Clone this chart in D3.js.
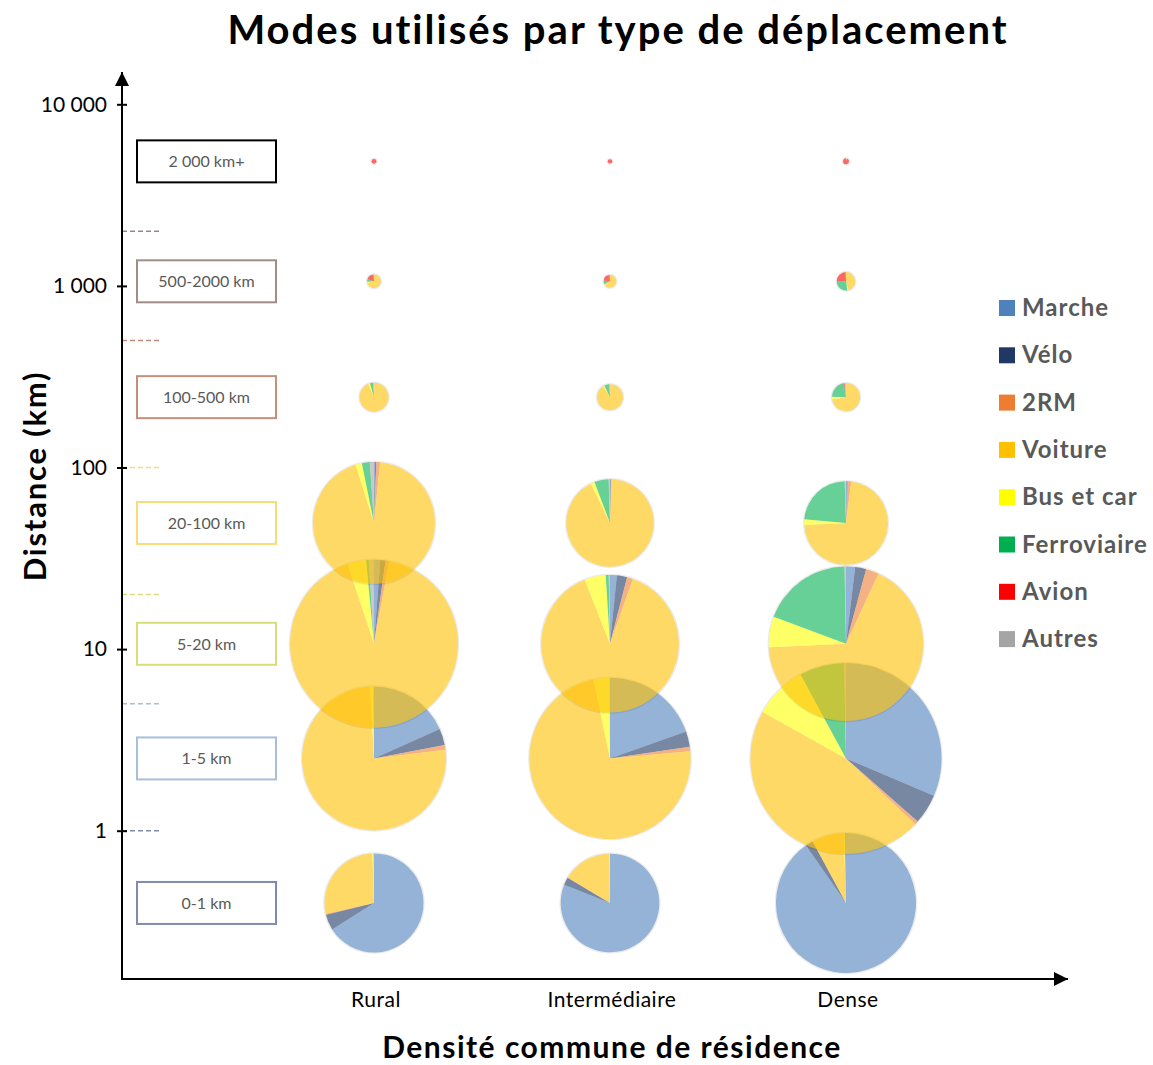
<!DOCTYPE html>
<meta charset="utf-8">
<style>
    body { margin: 0; background: #fff; }
    text { font-family: Lato, "Open Sans", sans-serif; }
</style>
<svg width="1153" height="1065"></svg>
<script src="https://d3js.org/d3.v7.min.js"></script>
<script>

    // --- data ---
    var categories = ["Rural", "Intermédiaire", "Dense"];
    var modes = ["Marche", "Vélo", "2RM", "Voiture", "Bus et car", "Ferroviaire", "Avion", "Autres"];
    var modeColors = ["#4F81BD", "#1F3864", "#ED7D31", "#FFC000", "#FFFF00", "#00B050", "#FF0000", "#A5A5A5"];

    var bands = ["0-1 km", "1-5 km", "5-20 km", "20-100 km", "100-500 km", "500-2000 km", "2 000 km+"];
    var bandCenters = [0.4, 2.5, 10.7, 49.5, 244, 1060, 4850];   // km, where each row of pies sits
    var bandLimits = [1, 5, 20, 100, 500, 2000];
    var bandColors = ["#7F8BB0", "#A7BFD8", "#D6DE7C", "#FADB7A", "#C4907A", "#A28C87", "#000000"];
    var limitColors = ["#7F8BB0", "#A7BFD8", "#D6DE7C", "#FADB7A", "#C08A78", "#A08480"];

    var yTicks = [1, 10, 100, 1000, 10000];
    var yTickLabels = ["1", "10", "100", "1 000", "10 000"];

    // relative volume of trips (pie area), one value per band
    var volumeRural = [24.5, 51.8, 70.6, 37.2, 2.1, 0.47, 0.06];
    var volumeInter = [24.3, 65.0, 47.3, 19.1, 1.69, 0.40, 0.05];
    var volumeDense = [49.0, 91.2, 59.6, 17.5, 1.96, 0.85, 0.09];

    // modal shares (%) per band, in the order of `modes`
    var sharesRural = [
        [66, 5.2, 0.3, 28, 0.3, 0, 0, 0.2],
        [18.3, 3.7, 1.1, 76, 0.7, 0, 0, 0.2],
        [1.2, 1, 0.7, 92, 3.6, 0.5, 0, 1],
        [0.3, 0.3, 1, 93.5, 1.7, 2.1, 0, 1.1],
        [0, 0, 0.5, 93, 2, 3.5, 0, 1],
        [0, 0, 0, 71, 3, 6, 19, 1],
        [0, 0, 0, 0, 0, 0, 100, 0]
    ];
    var sharesInter = [
        [81, 2.5, 0.2, 16, 0.2, 0, 0, 0.1],
        [19.6, 3.1, 0.9, 73.1, 3.2, 0, 0, 0.1],
        [1.6, 2.4, 1.4, 88.6, 5, 0.7, 0, 0.3],
        [0.2, 0.2, 0.2, 92.4, 1.4, 5.3, 0, 0.5],
        [0, 0, 0.3, 91, 1.5, 6, 0.2, 1],
        [0, 0, 0, 65, 2, 10, 22, 1],
        [0, 0, 0, 0, 0, 0, 100, 0]
    ];
    var sharesDense = [
        [90.3, 1.8, 0, 7.4, 0.2, 0.3, 0, 0],
        [31.4, 5.1, 0.6, 46, 9, 7.6, 0, 0.3],
        [1.9, 2.3, 2.7, 67.4, 6.4, 19, 0, 0.3],
        [0.5, 0.2, 1.3, 72.2, 2.2, 23.1, 0, 0.5],
        [0, 0, 0.5, 72, 3, 22, 1, 1.5],
        [0, 0, 0, 46, 1.5, 28, 24, 0.5],
        [0, 0, 0, 4, 0, 0, 96, 0]
    ];

    var volumes = [volumeRural, volumeInter, volumeDense];
    var shares = [sharesRural, sharesInter, sharesDense];

    // --- layout ---
    var svg = d3.select("svg");
    var axisX = 122, axisBottom = 979;

    var x = d3.scalePoint().domain(categories).range([374, 846]);
    var y = d3.scaleLog().domain([1, 10000]).range([830.7, 104.3]);
    var r = d3.scaleSqrt().domain([0, 100]).range([0, 100]);
    var color = d3.scaleOrdinal().domain(modes).range(modeColors);

    svg.append("defs").append("marker")
        .attr("id", "arrow")
        .attr("viewBox", "0 0 10 10")
        .attr("refX", 10).attr("refY", 5)
        .attr("markerWidth", 7).attr("markerHeight", 7)
        .attr("orient", "auto")
        .append("path").attr("d", "M0,0 L10,5 L0,10 z").attr("fill", "#000");

    // title
    svg.append("text")
        .attr("x", 618).attr("y", 44)
        .attr("text-anchor", "middle")
        .style("font-size", "40px").style("font-weight", "bold")
        .style("letter-spacing", "2px")
        .text("Modes utilisés par type de déplacement");

    // band limits (dashes on the axis)
    svg.selectAll("line.limit")
        .data(bandLimits)
        .enter().append("line")
        .attr("class", "limit")
        .attr("x1", axisX).attr("x2", 160)
        .attr("y1", function (d) { return y(d); })
        .attr("y2", function (d) { return y(d); })
        .attr("stroke", function (d, i) { return limitColors[i]; })
        .attr("stroke-width", 1.5)
        .attr("stroke-dasharray", "5,3");

    // band label boxes
    var box = svg.selectAll("g.band")
        .data(bands)
        .enter().append("g")
        .attr("class", "band")
        .attr("transform", function (d, i) { return "translate(137," + (y(bandCenters[i]) - 21) + ")"; });
    box.append("rect")
        .attr("width", 139).attr("height", 42)
        .attr("fill", "none")
        .attr("stroke", function (d, i) { return bandColors[i]; })
        .attr("stroke-width", 2);
    box.append("text")
        .attr("x", 69.5).attr("y", 27)
        .attr("text-anchor", "middle")
        .style("font-size", "16px")
        .attr("fill", "#595959")
        .text(function (d) { return d; });

    // y axis
    var yAxis = d3.axisLeft(y)
        .tickValues(yTicks)
        .tickFormat(function (d, i) { return yTickLabels[i]; })
        .tickSizeInner(5).tickSizeOuter(0).tickPadding(10);
    var gy = svg.append("g")
        .attr("transform", "translate(" + axisX + ",0)")
        .call(yAxis);
    gy.select(".domain").remove();
    gy.selectAll(".tick line").attr("x1", 5).attr("stroke-width", 2);
    gy.selectAll(".tick text")
        .style("font-size", "21px")
        .style("font-family", "Lato, sans-serif")
        .attr("fill", "#000");

    svg.append("line")
        .attr("x1", axisX).attr("y1", axisBottom)
        .attr("x2", axisX).attr("y2", 72)
        .attr("stroke", "#000").attr("stroke-width", 2)
        .attr("marker-end", "url(#arrow)");
    svg.append("line")
        .attr("x1", axisX - 1).attr("y1", axisBottom)
        .attr("x2", 1068).attr("y2", axisBottom)
        .attr("stroke", "#000").attr("stroke-width", 2)
        .attr("marker-end", "url(#arrow)");

    // x category labels
    svg.selectAll("text.cat")
        .data(categories)
        .enter().append("text")
        .attr("class", "cat")
        .attr("x", function (d) { return x(d) + 2; })
        .attr("y", 1007)
        .attr("text-anchor", "middle")
        .style("font-size", "21px")
        .style("letter-spacing", "0.5px")
        .text(function (d) { return d; });

    // axis titles
    svg.append("text")
        .attr("x", 612).attr("y", 1058)
        .attr("text-anchor", "middle")
        .style("font-size", "30px").style("font-weight", "bold")
        .style("letter-spacing", "1.5px")
        .text("Densité commune de résidence");
    svg.append("text")
        .attr("transform", "translate(46,476) rotate(-90)")
        .attr("text-anchor", "middle")
        .style("font-size", "31px").style("font-weight", "bold")
        .style("letter-spacing", "1.8px")
        .text("Distance (km)");

    // pies
    var pie = d3.pie().sort(null).value(function (d) { return d; });
    var arc = d3.arc().innerRadius(0);

    var cells = [];
    categories.forEach(function (c, ci) {
        bands.forEach(function (b, bi) {
            cells.push({ cat: c, band: bi, volume: volumes[ci][bi], shares: shares[ci][bi] });
        });
    });

    var pies = svg.append("g").selectAll("g.pie")
        .data(cells)
        .enter().append("g")
        .attr("class", "pie")
        .attr("transform", function (d) { return "translate(" + x(d.cat) + "," + y(bandCenters[d.band]) + ")"; });

    pies.append("circle")
        .attr("r", function (d) { return r(d.volume) + 0.5; })
        .attr("fill", "none")
        .attr("stroke", "#000")
        .attr("stroke-opacity", 0.08)
        .attr("stroke-width", 1.5);

    pies.selectAll("path")
        .data(function (d) {
            var rad = r(d.volume);
            return pie(d.shares).map(function (s) { s.rad = rad; return s; });
        })
        .enter().append("path")
        .attr("d", function (s) { return arc.outerRadius(s.rad)(s); })
        .attr("fill", function (s, i) { return modeColors[i]; })
        .attr("fill-opacity", 0.6);

    // legend
    var legend = svg.selectAll("g.legend")
        .data(modes)
        .enter().append("g")
        .attr("class", "legend")
        .attr("transform", function (d, i) { return "translate(999," + (300 + i * 47.3) + ")"; });
    legend.append("rect")
        .attr("width", 16).attr("height", 16)
        .attr("fill", function (d) { return color(d); });
    legend.append("text")
        .attr("x", 23).attr("y", 16)
        .attr("fill", "#595959")
        .style("font-size", "24px").style("font-weight", "bold")
        .style("letter-spacing", "1px")
        .text(function (d) { return d; });

</script>
